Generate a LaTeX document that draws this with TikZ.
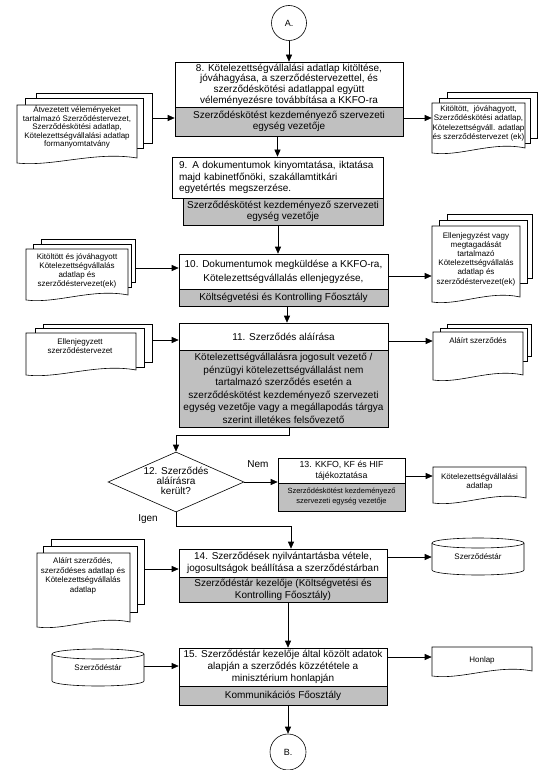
\documentclass[tikz,border=0pt]{standalone}
\usepackage{fontspec}
\setmainfont{Liberation Sans}
\usetikzlibrary{arrows.meta,shapes.geometric}
\definecolor{boxgray}{RGB}{192,192,192}
\newcommand\fsz[2]{\fontsize{#1}{#2}\selectfont}
% front page of a document symbol: x1 y1 x2 y2 (y downward)
\newcommand\frontdoc[4]{\draw[fill=white] (#1,#2) -- (#3,#2) -- (#3,{#4-5}) .. controls ({#1+0.65*(#3-#1)},{#4-12}) and ({#1+0.3*(#3-#1)},{#4+4}) .. (#1,#4) -- cycle;}
\newcommand\backpage[4]{\draw[fill=white] (#1,#2) rectangle (#3,#4);}
% cylinder: x1 y1 x2 y2
\newcommand\cylshape[4]{%
  \draw[fill=white] (#1,{#2+5}) -- (#1,{#4-5}) arc[start angle=180,end angle=360,x radius=46pt,y radius=5pt] -- (#3,{#2+5});
  \draw[fill=white] ({(#1+#3)/2},{#2+5}) ellipse[x radius=46pt,y radius=5pt];}
\begin{document}
\begin{tikzpicture}[x=1pt,y=-1pt,line width=0.6pt,
  arr/.style={-{Triangle[length=7pt,width=6pt]}},
  wbox/.style={draw,fill=white,inner sep=0pt,align=center},
  gbox/.style={draw,fill=boxgray,inner sep=0pt,align=center},
  pagebox/.style={draw,fill=white,inner sep=0pt},
  dtxt/.style={inner sep=0pt,align=center,font=\fsz{8}{9}},
  lbl/.style={inner sep=0pt,font=\fsz{10}{12}}]
\useasboundingbox (0,0) rectangle (549,770);

% ---- connector circles
\node[circle,draw,fill=white,minimum size=35pt,inner sep=0pt,font=\fsz{9}{10}] (A) at (289,23) {A.};
\node[circle,draw,fill=white,minimum size=36pt,inner sep=0pt,font=\fsz{9}{10}] (B) at (288,752) {B.};

% ---- step 8
\node[wbox,minimum width=228pt,minimum height=45pt,font=\fsz{10}{10.6}] (s8w) at (289,84.5)
  {8. Kötelezettségvállalási adatlap kitöltése,\\ jóváhagyása, a szerződéstervezettel, és\\ szerződéskötési adatlappal együtt\\ véleményezésre továbbítása a KKFO-ra};
\node[gbox,minimum width=228pt,minimum height=29pt,font=\fsz{10}{11}] (s8g) at (289,121.5)
  {Szerződéskötést kezdeményező szervezeti\\ egység vezetője};

% ---- step 9
\node[wbox,align=left,text width=197pt,inner xsep=7pt,inner ysep=0pt,minimum height=41pt,font=\fsz{10}{11.5}] (s9w) at (277.5,177.5)
  {9. A dokumentumok kinyomtatása, iktatása\\ majd kabinetfőnöki, szakállamtitkári\\ egyetértés megszerzése.};
\node[gbox,minimum width=200pt,minimum height=27pt,font=\fsz{10}{11}] (s9g) at (283,211.5)
  {Szerződéskötést kezdeményező szervezeti\\ egység vezetője};

% ---- step 10
\node[wbox,minimum width=209pt,minimum height=35pt,font=\fsz{10}{14}] (s10w) at (283.5,271.5)
  {10. Dokumentumok megküldése a KKFO-ra,\\ Kötelezettségvállalás ellenjegyzése,};
\node[gbox,minimum width=209pt,minimum height=17pt,font=\fsz{10}{11}] (s10g) at (283.5,297.5)
  {Költségvetési és Kontrolling Főosztály};

% ---- step 11
\node[wbox,minimum width=209pt,minimum height=27pt,font=\fsz{10}{11}] (s11w) at (283.5,336.5)
  {11. Szerződés aláírása};
\node[gbox,minimum width=209pt,minimum height=77pt,font=\fsz{10}{12.5}] (s11g) at (283.5,388.5)
  {Kötelezettségvállalásra jogosult vezető /\\ pénzügyi kötelezettségvállalást nem\\ tartalmazó szerződés esetén a\\ szerződéskötést kezdeményező szervezeti\\ egység vezetője vagy a megállapodás tárgya\\ szerint illetékes felsővezető};

% ---- step 12 decision
\node[diamond,draw,fill=white,minimum width=136pt,minimum height=60pt,inner sep=0pt] (d12) at (176,482) {};
\node[inner sep=0pt,align=center,font=\fsz{10}{9.8}] (d12t) at (176,481) {12. Szerződés\\ aláírásra\\ került?};
\node[lbl] (nem) at (258,464) {Nem};
\node[lbl] (igen) at (148,519) {Igen};

% ---- step 13
\node[wbox,minimum width=127pt,minimum height=25pt,font=\fsz{8.8}{10.7}] (s13w) at (341.5,470.5)
  {13. KKFO, KF és HIF\\ tájékoztatása};
\node[gbox,minimum width=127pt,minimum height=28pt,font=\fsz{7.5}{10}] (s13g) at (341.5,497)
  {Szerződéskötést kezdeményező\\ szervezeti egység vezetője};

% ---- step 14
\node[wbox,minimum width=208pt,minimum height=28pt,font=\fsz{10}{12}] (s14w) at (283,563)
  {14. Szerződések nyilvántartásba vétele,\\ jogosultságok beállítása a szerződéstárban};
\node[gbox,minimum width=208pt,minimum height=25pt,font=\fsz{10}{12}] (s14g) at (283,589.5)
  {Szerződéstár kezelője (Költségvetési és\\ Kontrolling Főosztály)};

% ---- step 15
\node[wbox,minimum width=208pt,minimum height=38pt,font=\fsz{10}{12}] (s15w) at (283,667)
  {15. Szerződéstár kezelője által közölt adatok\\ alapján a szerződés közzététele a\\ minisztérium honlapján};
\node[gbox,minimum width=208pt,minimum height=19pt,font=\fsz{10}{11}] (s15g) at (283,695.5)
  {Kommunikációs Főosztály};

% ---- documents: step 8
\node[pagebox,minimum width=116pt,minimum height=50pt] (d8Lb) at (94,118) {};
\backpage{25}{98}{143}{148}
\frontdoc{17}{105}{137}{163}
\node[dtxt,font=\fsz{8}{8.6}] (d8L) at (77,127) {Átvezetett véleményeket\\ tartalmazó Szerződéstervezet,\\ Szerződéskötési adatlap,\\ Kötelezettségvállalási adatlap\\ formanyomtatvány};

\backpage{447}{92}{537}{138}
\backpage{439}{98}{530}{143}
\frontdoc{432}{103}{525}{153}
\node[dtxt,minimum width=93pt,font=\fsz{8}{9.5}] (d8R) at (478.5,123.5) {Kitöltött,\ \ jóváhagyott,\\ Szerződéskötési adatlap,\\ Kötelezettségváll. adatlap\\ és szerződéstervezet (ek)};

% ---- documents: step 10
\node[pagebox,minimum width=94pt,minimum height=43pt] (d10Lb) at (88,260.5) {};
\backpage{33}{244}{131}{287}
\frontdoc{26}{249}{128}{300}
\node[dtxt] (d10L) at (77,271) {Kitöltött és jóváhagyott\\ Kötelezettségvállalás\\ adatlap és\\ szerződéstervezet(ek)};

\backpage{447}{214}{532}{278}
\backpage{439}{220}{527}{283}
\frontdoc{432}{226}{520}{302}
\node[dtxt,minimum width=88pt,font=\fsz{8}{9.2}] (d10R) at (476,259) {Ellenjegyzést vagy\\ megtagadását\\ tartalmazó\\ Kötelezettségvállalás\\ adatlap és\\ szerződéstervezet(ek)};

% ---- documents: step 11
\node[pagebox,minimum width=109pt,minimum height=38pt] (d11Lb) at (97.5,343) {};
\backpage{35}{328}{144}{367}
\frontdoc{26}{333}{136}{375}
\node[dtxt,font=\fsz{8}{8.6}] (d11L) at (80,346) {Ellenjegyzett\\ szerződéstervezet};

\backpage{447}{324}{531}{356}
\backpage{440}{328}{527}{361}
\frontdoc{433}{332}{523}{380}
\node[dtxt,minimum width=90pt] (d11R) at (478,341) {Aláírt szerződés};

% ---- document: step 13
\frontdoc{433}{467}{526}{503}
\node[dtxt,minimum width=93pt,font=\fsz{8}{8.8}] (d13R) at (479.5,482) {Kötelezettségvállalási\\ adatlap};

% ---- documents: step 14
\node[pagebox,minimum width=93pt,minimum height=65pt] (d14Lb) at (97.5,571.5) {};
\backpage{43}{546}{137}{612}
\frontdoc{37}{553}{130}{627}
\node[dtxt,font=\fsz{8}{9.6}] (d14L) at (83,576) {Aláírt szerződés,\\ szerződéses adatlap és\\ Kötelezettségvállalás\\ adatlap};

\cylshape{432}{538}{524}{575}
\node[dtxt,minimum width=92pt] (c14R) at (478,557) {Szerződéstár};

% ---- step 15 side symbols
\cylshape{52}{649}{144}{686}
\node[dtxt,minimum width=92pt] (c15L) at (98,668) {Szerződéstár};

\frontdoc{432}{647}{532}{676}
\node[dtxt,minimum width=100pt] (d15R) at (482,660) {Honlap};

% ---- main flow connectors
\coordinate (k89) at (277.5,0);
\coordinate (k910) at (278,0);
\coordinate (k1011) at (287,0);
\coordinate (k11) at (289,435);
\coordinate (k12) at (291,526);
\coordinate (k1415) at (288,0);
\draw[arr] (A.south) -- (s8w.north);
\draw[arr] (s8g.south -| k89) -- (s9w.north -| k89);
\draw[arr] (s9g.south -| k910) -- (s10w.north -| k910);
\draw[arr] (s10g.south -| k1011) -- (s11w.north -| k1011);
\draw[arr] (s11g.south -| k11) -- (k11) -| (d12.north);
\draw[arr] (d12.south) |- (k12) -- (s14w.north -| k12);
\draw[arr] (d12.east) -- (s13w.west |- d12.east);
\draw[arr] (s14g.south -| k1415) -- (s15w.north -| k1415);
\draw[arr] (s15g.south -| B.north) -- (B.north);

% ---- side connectors
\coordinate (y8) at (0,118);
\coordinate (y10a) at (0,268);
\coordinate (y10b) at (0,276);
\coordinate (y11a) at (0,340);
\coordinate (y11b) at (0,341);
\coordinate (y13) at (0,476);
\coordinate (y14a) at (0,569);
\coordinate (y14b) at (0,557);
\coordinate (y15a) at (0,666);
\coordinate (y15b) at (0,657);
\draw[arr] (d8Lb.east |- y8) -- (s8g.west |- y8);
\draw[arr] (s8g.east |- y8) -- (d8R.west |- y8);
\draw[arr] (d10Lb.east |- y10a) -- (s10w.west |- y10a);
\draw[arr] (s10w.east |- y10b) -- (d10R.west |- y10b);
\draw[arr] (d11Lb.east |- y11a) -- (s11w.west |- y11a);
\draw[arr] (s11w.east |- y11b) -- (d11R.west |- y11b);
\draw[arr] (s13w.east |- y13) -- (d13R.west |- y13);
\draw[arr] (d14Lb.east |- y14a) -- (s14w.west |- y14a);
\draw[arr] (s14w.east |- y14b) -- (c14R.west |- y14b);
\draw[arr] (c15L.east |- y15a) -- (s15w.west |- y15a);
\draw[arr] (s15w.east |- y15b) -- (d15R.west |- y15b);
\end{tikzpicture}
\end{document}
